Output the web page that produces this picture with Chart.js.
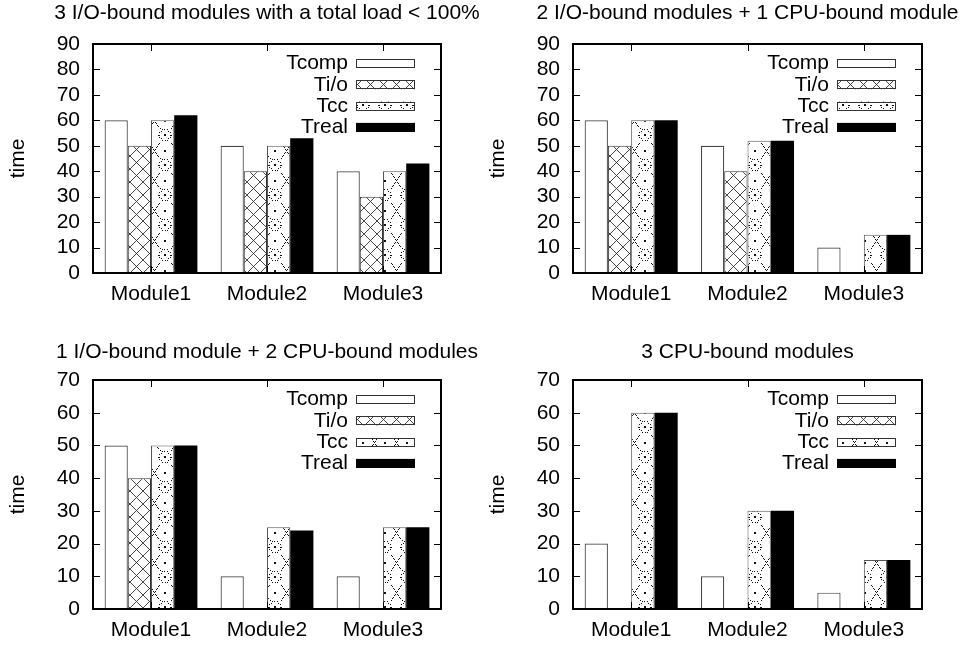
<!DOCTYPE html>
<html>
<head>
<meta charset="utf-8">
<script src="https://cdn.jsdelivr.net/npm/chart.js@4.4.1/dist/chart.umd.min.js"></script>
<style>
  html, body { margin: 0; padding: 0; background: #fff; overflow: hidden; width: 963px; height: 645px; }
  canvas { position: absolute; }
</style>
</head>
<body>
<canvas id="c1" width="534" height="322" style="left:0;top:0"></canvas>
<canvas id="c2" width="535" height="322" style="left:480px;top:0"></canvas>
<canvas id="c3" width="534" height="323" style="left:0;top:322px"></canvas>
<canvas id="c4" width="535" height="323" style="left:480px;top:322px"></canvas>
<script>
// data
const categories = ["Module1", "Module2", "Module3"];
const seriesNames = ["Tcomp", "Ti/o", "Tcc", "Treal"];

// 3 I/O-bound modules with a total load < 100%
const ioTcomp = [60, 50, 40];
const ioTio = [50, 40, 30];
const ioTcc = [60, 50, 40];
const ioTreal = [62, 53, 43];

// 2 I/O-bound modules + 1 CPU-bound module
const mixATcomp = [60, 50, 10];
const mixATio = [50, 40, 0];
const mixATcc = [60, 52, 15];
const mixATreal = [60, 52, 15];

// 1 I/O-bound module + 2 CPU-bound modules
const mixBTcomp = [50, 10, 10];
const mixBTio = [40, 0, 0];
const mixBTcc = [50, 25, 25];
const mixBTreal = [50, 24, 25];

// 3 CPU-bound modules
const cpuTcomp = [20, 10, 5];
const cpuTio = [0, 0, 0];
const cpuTcc = [60, 30, 15];
const cpuTreal = [60, 30, 15];

const FONT = "'Liberation Sans', Arial, Helvetica, sans-serif";
Chart.defaults.font.family = FONT;
Chart.defaults.font.size = 21;
Chart.defaults.color = "#000";

// fill patterns like gnuplot's
function makeTile(w, h, draw) {
  const c = document.createElement("canvas");
  c.width = w; c.height = h;
  const g = c.getContext("2d");
  g.fillStyle = "#fff";
  g.fillRect(0, 0, w, h);
  draw(g);
  return document.createElement("canvas").getContext("2d").createPattern(c, "repeat");
}

const crossPattern = makeTile(13, 13, g => {
  g.strokeStyle = "#333";
  g.lineWidth = 0.9;
  g.beginPath();
  g.moveTo(0, 0); g.lineTo(13, 13);
  g.moveTo(13, 0); g.lineTo(0, 13);
  g.stroke();
});

const dotPattern = makeTile(22, 30, g => {
  g.fillStyle = "#111";
  const dot = (x, y) => g.fillRect(Math.round(x), Math.round(y), 1, 1);
  // dotted ring
  for (let k = 0; k < 16; k++) {
    const t = k / 16 * Math.PI * 2;
    dot(10.5 + 5.5 * Math.cos(t), 14.5 + 5.5 * Math.sin(t));
  }
  g.fillRect(10, 14, 2, 2);
  // dotted diagonals outside the ring
  for (let s = 0; s <= 1.001; s += 0.05) {
    const x1 = 22 * s, y1 = 30 * s;
    if (Math.hypot(x1 - 11, y1 - 15) > 7.5) { dot(x1, y1); dot(22 - x1, y1); }
  }
  g.fillRect(10, 0, 2, 2);
  dot(4, 15); dot(17, 15);
});

const seriesStyle = [
  { backgroundColor: "#fff", borderColor: "#444", borderWidth: 1.2 },
  { backgroundColor: crossPattern, borderColor: "#333", borderWidth: 1 },
  { backgroundColor: dotPattern, borderColor: "#555", borderWidth: 1 },
  { backgroundColor: "#000", borderColor: "#000", borderWidth: 0 }
];

// frame with inward ticks, plus a gnuplot style key
const framePlugin = {
  id: "frame",
  afterDatasetsDraw(chart) {
    const { ctx, chartArea: a, scales: { x, y } } = chart;
    ctx.save();
    ctx.strokeStyle = "#000";
    ctx.lineWidth = 1;
    ctx.beginPath();
    y.ticks.forEach(t => {
      const py = Math.round(y.getPixelForValue(t.value)) + 0.5;
      ctx.moveTo(a.left, py); ctx.lineTo(a.left + 7, py);
      ctx.moveTo(a.right, py); ctx.lineTo(a.right - 7, py);
    });
    x.ticks.forEach((t, i) => {
      const px = Math.round(x.getPixelForTick(i)) + 0.5;
      ctx.moveTo(px, a.top); ctx.lineTo(px, a.top + 7);
      ctx.moveTo(px, a.bottom); ctx.lineTo(px, a.bottom - 7);
    });
    ctx.stroke();
    ctx.lineWidth = 2;
    ctx.strokeRect(a.left, a.top, a.right - a.left, a.bottom - a.top);

    // key
    ctx.font = "21px " + FONT;
    ctx.textAlign = "right";
    ctx.textBaseline = "middle";
    chart.data.datasets.forEach((ds, i) => {
      const cy = a.top + 19.5 + i * 21.3;
      const bx = a.right - 26 - 59;
      ctx.fillStyle = "#000";
      ctx.fillText(ds.label, bx - 8, cy);
      ctx.fillStyle = ds.backgroundColor;
      ctx.fillRect(bx, cy - 4.5, 59, 9);
      ctx.lineWidth = 1;
      ctx.strokeStyle = i === 3 ? "#000" : "#333";
      ctx.strokeRect(bx + 0.5, Math.round(cy - 4.5) + 0.5, 58, 8);
    });
    ctx.restore();
  }
};

function makeChart(id, title, yMax, values, topRow) {
  new Chart(document.getElementById(id), {
    type: "bar",
    data: {
      labels: categories,
      datasets: seriesNames.map((name, i) => Object.assign({
        label: name,
        data: values[i],
        categoryPercentage: 0.8,
        barPercentage: 1.0
      }, seriesStyle[i]))
    },
    options: {
      responsive: false,
      animation: false,
      layout: { padding: 0 },
      plugins: {
        legend: { display: false },
        tooltip: { enabled: false },
        title: {
          display: true,
          text: title,
          font: { size: 21, weight: "normal" },
          padding: topRow ? { top: 0.4, bottom: 18.4 } : { top: 17.4, bottom: 15.4 }
        }
      },
      scales: {
        x: {
          grid: { display: false, drawTicks: false },
          border: { display: false },
          ticks: { padding: 8.4, autoSkip: false, maxRotation: 0 },
          afterFit: s => { s.height = topRow ? 49 : 36; }
        },
        y: {
          min: 0,
          max: yMax,
          grid: { display: false, drawTicks: false },
          border: { display: false },
          ticks: { stepSize: 10, padding: 13, autoSkip: false },
          title: { display: true, text: "time", padding: { top: 5.4, bottom: 0 } },
          afterFit: s => { s.width = 93; }
        },
        yRight: {
          position: "right",
          display: true,
          min: 0,
          max: yMax,
          grid: { display: false, drawTicks: false },
          border: { display: false },
          ticks: { display: false },
          afterFit: s => { s.width = 93; }
        }
      }
    },
    plugins: [framePlugin]
  });
}

makeChart("c1", "3 I/O-bound modules with a total load < 100%", 90,
  [ioTcomp, ioTio, ioTcc, ioTreal], true);
makeChart("c2", "2 I/O-bound modules + 1 CPU-bound module", 90,
  [mixATcomp, mixATio, mixATcc, mixATreal], true);
makeChart("c3", "1 I/O-bound module + 2 CPU-bound modules", 70,
  [mixBTcomp, mixBTio, mixBTcc, mixBTreal], false);
makeChart("c4", "3 CPU-bound modules", 70,
  [cpuTcomp, cpuTio, cpuTcc, cpuTreal], false);
</script>
</body>
</html>
